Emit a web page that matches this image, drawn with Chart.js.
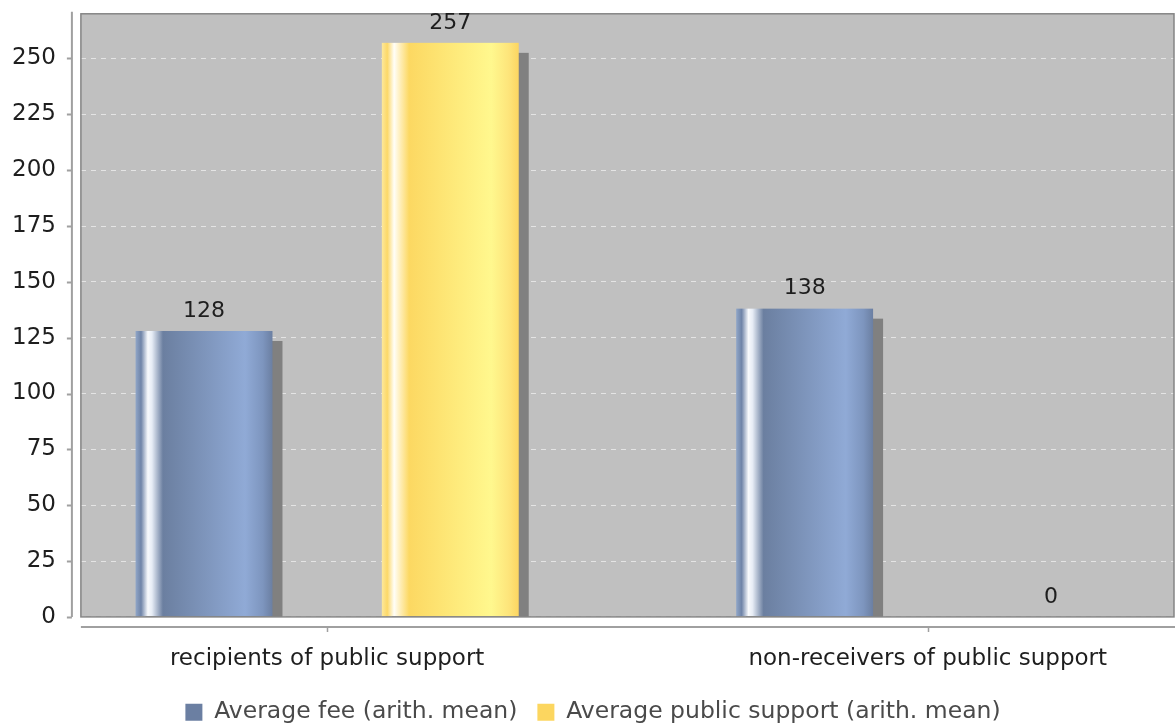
<!DOCTYPE html>
<html>
<head>
<meta charset="utf-8">
<script src="https://cdn.jsdelivr.net/npm/chart.js@4/dist/chart.umd.min.js"></script>
<style>
  html, body { margin: 0; padding: 0; background: #fff; }
  #wrap { width: 1175px; height: 726px; }
</style>
</head>
<body>
<div id="wrap"><canvas id="c"></canvas></div>
<script>
// Daten
const CATEGORIES = ['recipients of public support', 'non-receivers of public support'];
const AVG_FEE = [128, 138];
const AVG_SUPPORT = [257, 0];
const Y_MAX = 270;
const Y_STEP = 25;

const SERIES = [
  { label: 'Average fee (arith. mean)', data: AVG_FEE, swatch: '#6b7fa2',
    stops: [[0, '#90a6c8'], [0.04, '#6f84a8'], [0.09, '#f8fafd'], [0.12, '#e6ecf5'], [0.2, '#6b7fa0'], [0.8, '#90aad6'], [0.93, '#7d95be'], [1, '#6b7fa2']] },
  { label: 'Average public support (arith. mean)', data: AVG_SUPPORT, swatch: '#fcd65f',
    stops: [[0, '#fde89c'], [0.04, '#fcd868'], [0.09, '#fffef8'], [0.12, '#fff3cc'], [0.2, '#fcd862'], [0.8, '#fff88e'], [0.93, '#fde47a'], [1, '#fcd560']] },
];

Chart.defaults.font.family = '"DejaVu Sans", sans-serif';
Chart.defaults.font.size = 23;
Chart.defaults.color = '#1e1e1e';

// Hintergrund der Plotfläche
const plotBg = {
  id: 'plotBg',
  beforeDraw(chart) {
    const { ctx, chartArea: a } = chart;
    ctx.save();
    ctx.fillStyle = '#c0c0c0';
    ctx.fillRect(a.left, a.top, a.right - a.left, a.bottom - a.top);
    ctx.restore();
  },
};

// Balken mit Schatten + Verlauf (JFreeChart-Stil), dazu Wertbeschriftung
const gradientBars = {
  id: 'gradientBars',
  beforeDatasetsDraw(chart) {
    const { ctx, chartArea: a } = chart;
    const bars = [];
    chart.data.datasets.forEach((ds, di) => {
      chart.getDatasetMeta(di).data.forEach((el, i) => {
        const p = el.getProps(['x', 'y', 'base', 'width'], true);
        bars.push({ p, ds: SERIES[di], value: ds.data[i].y });
      });
    });
    ctx.save();
    ctx.beginPath();
    ctx.rect(a.left, a.top, a.right - a.left, a.bottom - a.top);
    ctx.clip();
    bars.forEach(({ p }) => {
      const h = p.base - p.y;
      if (h <= 0) return;
      ctx.fillStyle = '#808080';
      ctx.fillRect(p.x - p.width / 2 + 10, p.y + 10, p.width, h);
    });
    bars.forEach(({ p, ds }) => {
      const h = p.base - p.y;
      if (h <= 0) return;
      const l = p.x - p.width / 2, r = p.x + p.width / 2;
      const g = ctx.createLinearGradient(l, 0, r, 0);
      ds.stops.forEach(([o, c]) => g.addColorStop(o, c));
      ctx.fillStyle = g;
      ctx.fillRect(l, p.y, p.width, h);
    });
    ctx.restore();

    // Rahmen der Plotfläche
    ctx.save();
    ctx.strokeStyle = '#858585';
    ctx.lineWidth = 1.5;
    ctx.strokeRect(a.left, a.top, a.right - a.left, a.bottom - a.top);
    ctx.restore();

    ctx.save();
    ctx.font = '22px "DejaVu Sans", sans-serif';
    ctx.fillStyle = '#1e1e1e';
    ctx.textAlign = 'center';
    ctx.textBaseline = 'middle';
    bars.forEach(({ p, value }) => ctx.fillText(String(value), p.x, p.y - 20));
    ctx.restore();
    return false;
  },
  afterDraw(chart) {
    // abgesetzte Achsenlinien mit Tickmarken
    const { ctx, chartArea: a, scales } = chart;
    ctx.save();
    ctx.strokeStyle = '#a0a0a0';
    ctx.lineWidth = 2;
    const ax = a.left - 9;
    ctx.beginPath();
    ctx.moveTo(ax, a.top - 2);
    ctx.lineTo(ax, a.bottom);
    scales.y.ticks.forEach(t => {
      const y = Math.round(scales.y.getPixelForValue(t.value)) + 0.5;
      ctx.moveTo(ax, y);
      ctx.lineTo(ax - 5, y);
    });
    const ay = a.bottom + 10;
    ctx.moveTo(a.left, ay);
    ctx.lineTo(a.right + 1, ay);
    ctx.stroke();
    ctx.lineWidth = 1.5;
    ctx.beginPath();
    scales.x.ticks.forEach(t => {
      const x = Math.round(scales.x.getPixelForValue(t.value)) + 0.5;
      ctx.moveTo(x, ay);
      ctx.lineTo(x, ay + 5);
    });
    ctx.stroke();
    ctx.restore();
  },
};

new Chart(document.getElementById('c'), {
  type: 'bar',
  data: {
    datasets: SERIES.map(s => ({
      label: s.label,
      data: s.data.map((v, i) => ({ x: i, y: v })),
      backgroundColor: s.swatch,
      borderWidth: 0,
      categoryPercentage: 0.82,
      barPercentage: 0.556,
    })),
  },
  plugins: [plotBg, gradientBars],
  options: {
    responsive: true,
    maintainAspectRatio: false,
    animation: false,
    layout: { padding: { top: -6, right: 1, left: 12, bottom: -8 } },
    plugins: {
      tooltip: { enabled: false },
      legend: {
        position: 'bottom',
        labels: {
          boxWidth: 17, boxHeight: 17, padding: 20,
          color: '#4a4a4a',
          font: { size: 23.5 },
        },
      },
    },
    scales: {
      x: {
        type: 'linear',
        offset: false,
        min: -0.41,
        max: 1.41,
        afterBuildTicks: (scale) => { scale.ticks = CATEGORIES.map((_, i) => ({ value: i })); },
        afterFit: (scale) => { scale.height += 8; },
        grid: { drawOnChartArea: false, drawTicks: true, tickLength: 28, tickColor: 'transparent', offset: false },
        border: { display: false },
        ticks: {
          padding: 0,
          maxRotation: 0,
          autoSkip: false,
          callback: (v) => CATEGORIES[v] ?? '',
        },
      },
      y: {
        min: 0,
        max: Y_MAX,
        afterBuildTicks: (scale) => { scale.ticks = scale.ticks.filter(t => t.value % Y_STEP === 0); },
        grid: { color: '#e4e4e4', lineWidth: 1, drawTicks: true, tickLength: 25, tickColor: 'transparent' },
        border: { display: false, dash: [5, 5] },
        ticks: { stepSize: Y_STEP, padding: 0 },
      },
    },
  },
});
</script>
</body>
</html>
